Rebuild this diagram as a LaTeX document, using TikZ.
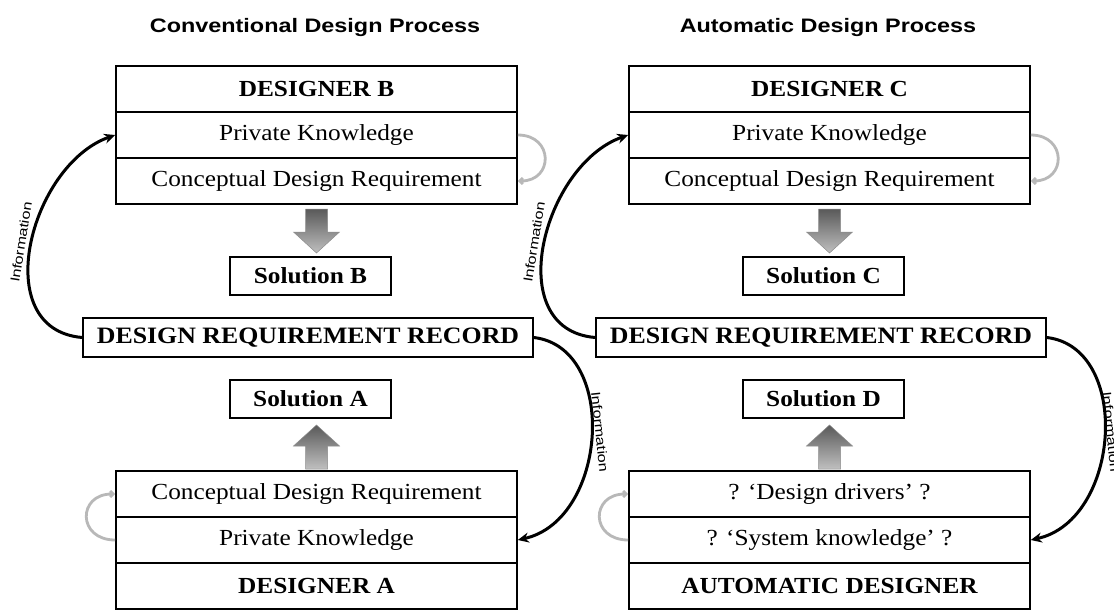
\documentclass[tikz,border=0pt]{standalone}
\usepackage{fontspec}
\usepackage{graphicx}
\setmainfont{Liberation Serif}
\setsansfont{Liberation Sans}
\usetikzlibrary{arrows.meta}
\newcommand{\stretchtxt}[1]{\scalebox{1.1}[1]{#1}}
\newcommand{\stretchhead}[1]{\scalebox{1.2}[1]{#1}}
\newcommand{\stretchinfo}[1]{\scalebox{1.25}[1]{#1}}
\begin{document}
\begin{tikzpicture}[x=1pt,y=-1pt,
  rowbox/.style={draw, line width=1.6pt, minimum width=401pt, minimum height=46pt, inner sep=0pt, font=\fontsize{23}{23}\selectfont},
  namebox/.style={rowbox, font=\fontsize{23}{23}\selectfont\bfseries},
  drrbox/.style={draw, line width=1.6pt, minimum width=450pt, minimum height=39pt, inner sep=0pt, font=\fontsize{23.5}{23.5}\selectfont\bfseries},
  solbox/.style={draw, line width=1.6pt, minimum width=161pt, minimum height=38pt, inner sep=0pt, font=\fontsize{23}{23}\selectfont\bfseries},
  header/.style={font=\sffamily\bfseries\fontsize{19.5}{19.5}\selectfont},
  info/.style={-{Stealth[length=11pt,width=10pt]}, line width=3pt},
  infolabel/.style={font=\sffamily\fontsize{13}{13}\selectfont, inner sep=0pt},
  loopline/.style={draw=black!28, line width=2.8pt, -{Straight Barb[length=3pt,width=6pt]}},
  blockarrow/.style={draw=black!45, line width=0.5pt, top color=black!65, bottom color=black!25}
]
\fill[white] (0,0) rectangle (1114,610);
\useasboundingbox (0,0) rectangle (1114,610);

% ---------- left column ----------
\node[header] (hL) at (315,28) {\stretchhead{Conventional Design Process}};
\node[namebox] (dB) at (316.5,89) {\stretchtxt{DESIGNER B}};
\node[rowbox] (pkB) at (316.5,135) {\stretchtxt{Private Knowledge}};
\node[rowbox] (cdB) at (316.5,181) {\stretchtxt{Conceptual Design Requirement}};
\node[solbox] (sB) at (310.5,276) {\stretchtxt{Solution B}};
\node[drrbox] (drL) at (308,337.5) {\stretchtxt{DESIGN REQUIREMENT RECORD}};
\node[solbox] (sA) at (310.5,399) {\stretchtxt{Solution A}};
\node[rowbox] (cdA) at (316.5,494) {\stretchtxt{Conceptual Design Requirement}};
\node[rowbox] (pkA) at (316.5,540) {\stretchtxt{Private Knowledge}};
\node[namebox] (dA) at (316.5,586) {\stretchtxt{DESIGNER A}};

\path[blockarrow, shift={(316.5,231)}] (-11,-22) -- (11,-22) -- (11,1) -- (23,1) -- (0,22) -- (-23,1) -- (-11,1) -- cycle;
\path[blockarrow, shift={(316.5,447)}] (-11,22) -- (11,22) -- (11,-1) -- (23,-1) -- (0,-22) -- (-23,-1) -- (-11,-1) -- cycle;

\draw[loopline] (pkB.east) .. controls +(36,0) and +(36,0) .. (cdB.east);
\draw[loopline] (pkA.west) .. controls +(-38,0) and +(-38,0) .. (cdA.west);

\draw[info] (drL.west) .. controls +(-95,-8) and +(-85,30) .. (pkB.west);
\draw[info] (drL.east) .. controls +(85,10) and +(90,-20) .. (pkA.east);
\node[infolabel, rotate=81] (iB) at (21,242) {\stretchinfo{Information}};
\node[infolabel, rotate=-84] (iA) at (600,432) {\stretchinfo{Information}};

% ---------- right column ----------
\node[header] (hR) at (828,28) {\stretchhead{Automatic Design Process}};
\node[namebox] (dC) at (829.5,89) {\stretchtxt{DESIGNER C}};
\node[rowbox] (pkC) at (829.5,135) {\stretchtxt{Private Knowledge}};
\node[rowbox] (cdC) at (829.5,181) {\stretchtxt{Conceptual Design Requirement}};
\node[solbox] (sC) at (823.5,276) {\stretchtxt{Solution C}};
\node[drrbox] (drR) at (821,337.5) {\stretchtxt{DESIGN REQUIREMENT RECORD}};
\node[solbox] (sD) at (823.5,399) {\stretchtxt{Solution D}};
\node[rowbox] (cdD) at (829.5,494) {\stretchtxt{? ‘Design drivers’ ?}};
\node[rowbox] (pkD) at (829.5,540) {\stretchtxt{? ‘System knowledge’ ?}};
\node[namebox] (dD) at (829.5,586) {\stretchtxt{AUTOMATIC DESIGNER}};

\path[blockarrow, shift={(829.5,231)}] (-11,-22) -- (11,-22) -- (11,1) -- (23,1) -- (0,22) -- (-23,1) -- (-11,1) -- cycle;
\path[blockarrow, shift={(829.5,447)}] (-11,22) -- (11,22) -- (11,-1) -- (23,-1) -- (0,-22) -- (-23,-1) -- (-11,-1) -- cycle;

\draw[loopline] (pkC.east) .. controls +(36,0) and +(36,0) .. (cdC.east);
\draw[loopline] (pkD.west) .. controls +(-38,0) and +(-38,0) .. (cdD.west);

\draw[info] (drR.west) .. controls +(-95,-8) and +(-85,30) .. (pkC.west);
\draw[info] (drR.east) .. controls +(85,10) and +(90,-20) .. (pkD.east);
\node[infolabel, rotate=81] (iC) at (534,242) {\stretchinfo{Information}};
\node[infolabel, rotate=-84] (iD) at (1111,432) {\stretchinfo{Information}};
\end{tikzpicture}
\end{document}
